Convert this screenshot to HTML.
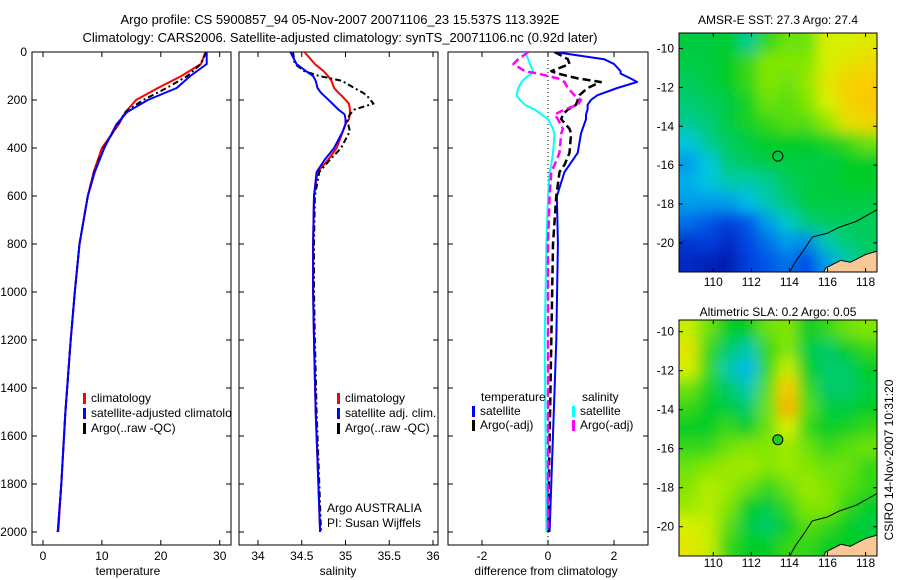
<!DOCTYPE html>
<html><head><meta charset="utf-8"><style>
body{margin:0;background:#fff;}
svg{display:block;font-family:"Liberation Sans",sans-serif;}
</style></head><body>
<svg id="c" width="900" height="580" viewBox="0 0 900 580" xmlns="http://www.w3.org/2000/svg">
<defs>
<filter id="blur" x="-10%" y="-10%" width="120%" height="120%"><feGaussianBlur stdDeviation="7"/></filter>
<clipPath id="m1clip"><rect x="679" y="33" width="198" height="239"/></clipPath>
<clipPath id="m2clip"><rect x="679" y="320" width="198" height="236"/></clipPath>
<clipPath id="p1clip"><rect x="32" y="52" width="199" height="493"/></clipPath>
<clipPath id="p2clip"><rect x="239" y="52" width="199" height="493"/></clipPath>
<clipPath id="p3clip"><rect x="448" y="52" width="200" height="493"/></clipPath>
</defs>
<text x="340" y="24" font-size="13" text-anchor="middle">Argo profile: CS 5900857_94 05-Nov-2007 20071106_23 15.537S 113.392E</text>
<text x="340" y="42" font-size="13" text-anchor="middle">Climatology: CARS2006. Satellite-adjusted climatology: synTS_20071106.nc (0.92d later)</text>
<g id="g"></g>
<text transform="translate(893,460) rotate(-90)" font-size="12" text-anchor="middle">CSIRO 14-Nov-2007 10:31:20</text>
</svg>
<script>
// ---- data ----
const depthT = [0,50,100,150,200,250,300,400,500,600,800,1000,1200,1500,1800,2000];
const tempClim = [27.6,26.8,23.5,19.5,15.8,14.0,12.9,10.0,8.6,7.6,6.2,5.4,4.7,3.8,3.1,2.6];
const tempSat  = [27.8,27.8,25.0,22.7,17.8,14.3,12.5,10.4,8.8,7.6,6.2,5.4,4.7,3.8,3.1,2.5];
const tempArgo = [27.7,26.8,24.5,21.0,17.0,14.0,12.7,10.3,8.7,7.6,6.2,5.4,4.7,3.8,3.1,2.5];
const depthS = [0,50,80,100,120,150,170,180,215,240,260,280,300,330,400,450,500,600,800,1000,1200,1500,1800,2000];
const salClim = [34.53,34.65,34.75,34.80,34.84,34.87,34.92,34.95,35.04,35.05,35.05,35.04,35.0,34.97,34.90,34.80,34.68,34.64,34.63,34.63,34.64,34.66,34.69,34.71];
const salSat  = [34.37,34.44,34.55,34.63,34.66,34.68,34.72,34.75,34.85,34.92,34.99,35.0,35.0,34.97,34.87,34.76,34.67,34.64,34.63,34.63,34.64,34.66,34.69,34.71];
const salArgo = [34.40,34.42,34.53,34.70,34.96,35.10,35.20,35.24,35.32,35.10,35.05,35.02,35.03,35.05,34.95,34.82,34.70,34.65,34.64,34.64,34.65,34.67,34.70,34.72];
const depthD = [0,30,50,80,90,110,125,150,180,200,220,240,260,280,320,340,420,470,500,600,800,1200,2000];
const dTempSat  = [0.2,1.7,2.0,2.2,2.2,2.5,2.7,2.1,1.5,1.3,1.2,1.2,1.15,1.15,1.05,1.0,0.9,0.65,0.5,0.27,0.3,0.25,0.05];
const dTempArgo = [0.2,0.6,0.65,0.1,0.3,0.9,1.6,1.2,0.95,0.9,0.85,0.6,0.45,0.4,0.65,0.7,0.65,0.5,0.35,0.25,0.15,0.1,0.0];
const dSalSat   = [-0.7,-0.6,-0.55,-0.45,-0.5,-0.7,-0.8,-0.9,-0.95,-0.85,-0.7,-0.4,-0.2,0.0,0.15,0.2,0.15,0.1,0.05,0.0,-0.05,-0.1,-0.05];
const dSalArgo  = [-0.6,-0.9,-1.05,-0.7,-0.3,0.3,0.5,0.6,0.8,1.0,0.9,0.5,0.2,0.3,0.45,0.4,0.35,0.2,0.1,0.05,0.0,0.0,0.0];
const tempTicks = [0,10,20,30];
const salTicks = [34,34.5,35,35.5,36];
const diffTicks = [-2,0,2];
const depthTicks = [0,200,400,600,800,1000,1200,1400,1600,1800,2000];
const lonTicks = [110,112,114,116,118];
const latTicks = [-10,-12,-14,-16,-18,-20];
const sstGrid = [
[.48,.48,.50,.42,.55,.60,.60,.72,.72,.74],
[.48,.48,.50,.55,.62,.62,.62,.72,.76,.78],
[.46,.48,.50,.55,.62,.60,.64,.75,.80,.82],
[.44,.46,.48,.52,.60,.58,.62,.72,.80,.83],
[.42,.44,.48,.52,.55,.58,.58,.64,.76,.80],
[.36,.42,.46,.48,.50,.50,.50,.52,.55,.60],
[.30,.36,.44,.46,.48,.48,.48,.48,.50,.50],
[.32,.36,.40,.40,.42,.46,.48,.48,.50,.50],
[.30,.30,.30,.34,.40,.44,.48,.48,.48,.48],
[.25,.22,.18,.22,.30,.38,.44,.46,.46,.46],
[.15,.18,.12,.20,.25,.30,.28,.40,.44,.46],
[.12,.10,.08,.18,.22,.25,.20,.30,.40,.44]];
const slaGrid = [
[.70,.60,.50,.50,.60,.62,.50,.55,.60,.62],
[.75,.55,.45,.40,.55,.62,.48,.45,.50,.55],
[.72,.55,.40,.33,.55,.70,.50,.45,.45,.50],
[.60,.52,.45,.40,.58,.82,.55,.45,.45,.48],
[.55,.50,.48,.45,.60,.86,.58,.48,.48,.50],
[.50,.50,.55,.50,.60,.72,.55,.50,.52,.55],
[.55,.55,.60,.62,.62,.65,.60,.55,.58,.60],
[.60,.62,.65,.66,.62,.65,.62,.60,.60,.55],
[.62,.68,.65,.60,.55,.60,.65,.62,.58,.55],
[.65,.68,.62,.50,.48,.55,.62,.62,.55,.50],
[.72,.70,.58,.48,.45,.50,.58,.55,.50,.48],
[.75,.70,.55,.50,.50,.55,.55,.50,.50,.50]];
const floatLon = 113.392, floatLat = -15.537;

// ---- helpers ----
const NS="http://www.w3.org/2000/svg";
const G=document.getElementById('g');
function mk(tag,attrs,parent){const e=document.createElementNS(NS,tag);for(const k in attrs)e.setAttribute(k,attrs[k]);(parent||G).appendChild(e);return e;}
const yD = d => 52 + d*0.24;
const xT = v => 43 + v*5.89;
const xS = v => 258 + (v-34)*87.5;
const xDf = v => 548 + v*33;

function panel(name,x0,x1,ticks,xf,label,labelX){
  const r=mk('rect',{x:x0,y:52,width:x1-x0,height:493,fill:'none',stroke:'#000','stroke-width':1});
  
  
  ticks.forEach(t=>{const x=xf(t);
    mk('line',{x1:x,x2:x,y1:545,y2:540,stroke:'#000'});mk('line',{x1:x,x2:x,y1:52,y2:57,stroke:'#000'});
    const tx=mk('text',{x:x,y:560,'font-size':12,'text-anchor':'middle'});tx.textContent=t;
    
    });
  depthTicks.forEach(d=>{const y=yD(d);
    mk('line',{x1:x0,x2:x0+5,y1:y,y2:y,stroke:'#000'});mk('line',{x1:x1,x2:x1-5,y1:y,y2:y,stroke:'#000'});});
  const l=mk('text',{x:labelX,y:575,'font-size':12,'text-anchor':'middle'});l.textContent=label;
  
  
}
panel('temperature-panel',32,231,tempTicks,xT,'temperature',128);
panel('salinity-panel',239,438,salTicks,xS,'salinity',338);
panel('difference-panel',448,648,diffTicks,xDf,'difference from climatology',546);
depthTicks.forEach(d=>{const t=mk('text',{x:27,y:yD(d)+4,'font-size':12,'text-anchor':'end'});t.textContent=d;
  
  });
mk('line',{x1:548,x2:548,y1:52,y2:545,stroke:'#000','stroke-dasharray':'1,3','stroke-width':1});

function line(name,depths,vals,xf,color,dash,clip,w){
  const pts=depths.map((d,i)=>xf(vals[i]).toFixed(1)+','+yD(d).toFixed(1)).join(' ');
  const p=mk('polyline',{points:pts,fill:'none',stroke:color,'stroke-width':w||2,'stroke-dasharray':dash||'none','clip-path':'url(#'+clip+')','stroke-linejoin':'round'});
  
  
}
line('temp-climatology-line',depthT,tempClim,xT,'#f00',null,'p1clip');
line('temp-argo-line',depthT,tempArgo,xT,'#000','6,3,2,3','p1clip');
line('temp-satellite-line',depthT,tempSat,xT,'#00f',null,'p1clip');
line('sal-climatology-line',depthS,salClim,xS,'#f00',null,'p2clip');
line('sal-argo-line',depthS,salArgo,xS,'#000','6,3,2,3','p2clip');
line('sal-satellite-line',depthS,salSat,xS,'#00f',null,'p2clip');
line('diff-temp-satellite-line',depthD,dTempSat,xDf,'#00f',null,'p3clip');
line('diff-temp-argo-line',depthD,dTempArgo,xDf,'#000','8,4','p3clip',2.5);
line('diff-sal-satellite-line',depthD,dSalSat,xDf,'#0ff',null,'p3clip');
line('diff-sal-argo-line',depthD,dSalArgo,xDf,'#f0f','8,4','p3clip',2.5);

function legend(name,x,y,color,text,clip){
  const b=mk('rect',{x:x,y:y-9,width:3,height:11,fill:color});
  
  
  const t=mk('text',{x:x+8,y:y,'font-size':12});t.textContent=text;
  if(clip)t.setAttribute('clip-path','url(#'+clip+')');
  
  
}
legend('legend-climatology',83,402,'#f00','climatology','p1clip');
legend('legend-satellite-adjusted',83,417,'#00f','satellite-adjusted climatology','p1clip');
legend('legend-argo-raw',83,432,'#000','Argo(..raw -QC)','p1clip');
legend('legend-sal-climatology',337,402,'#f00','climatology');
legend('legend-sal-satellite',337,417,'#00f','satellite adj. clim.');
legend('legend-sal-argo',337,432,'#000','Argo(..raw -QC)');
legend('legend-diff-temp-satellite',472,415,'#00f','satellite');
legend('legend-diff-temp-argo',472,429,'#000','Argo(-adj)');
legend('legend-diff-sal-satellite',572,415,'#0ff','satellite');
legend('legend-diff-sal-argo',572,429,'#f0f','Argo(-adj)');
[['temperature',481,401],['salinity',582,401]].forEach(a=>{const t=mk('text',{x:a[1],y:a[2],'font-size':12});t.textContent=a[0];
  
  });
[['Argo AUSTRALIA',512],['PI: Susan Wijffels',527]].forEach(a=>{const t=mk('text',{x:327,y:a[1],'font-size':12});t.textContent=a[0];
  
  });

// ---- maps ----
const stops=[[0,[0,0,140]],[.2,[0,70,230]],[.35,[0,200,235]],[.5,[0,205,40]],[.62,[130,230,0]],[.72,[215,240,0]],[.82,[250,205,0]],[.92,[250,140,0]],[1,[220,60,0]]];
function cmap(v){for(let i=1;i<stops.length;i++){if(v<=stops[i][0]){const a=stops[i-1],b=stops[i],f=(v-a[0])/(b[0]-a[0]);
  return 'rgb('+a[1].map((c,k)=>Math.round(c+(b[1][k]-c)*f)).join(',')+')';}}return 'rgb(220,60,0)';}
function map(name,grid,top,bot,latTop,latBot,title,titleY,labelY,clipId){
  const x0=679,x1=877,lon0=108.2,lon1=118.6;
  const lx=l=>x0+(l-lon0)/(lon1-lon0)*(x1-x0);
  const ly=l=>top+(latTop-l)/(latTop-latBot)*(bot-top);
  const tt=mk('text',{x:778,y:titleY,'font-size':12,'text-anchor':'middle'});tt.textContent=title;
  
  
  const outer=mk('g',{'clip-path':'url(#'+clipId+')'});
  
  
  const g=mk('g',{filter:'url(#blur)'},outer);
  const R=grid.length,C=grid[0].length,cw=(x1-x0)/C,ch=(bot-top)/R;
  for(let r=-1;r<=R;r++)for(let c=-1;c<=C;c++){
    const v=grid[Math.min(R-1,Math.max(0,r))][Math.min(C-1,Math.max(0,c))];
    const cell=mk('rect',{x:x0+c*cw-0.5,y:top+r*ch-0.5,width:cw+1,height:ch+1,fill:cmap(v)},g);
    
    
  }
  const land=[[115.7,-21.7],[115.9,-21.3],[116.3,-21.1],[116.7,-20.9],[117.2,-21.0],[117.6,-20.8],[118.0,-20.6],[118.7,-20.4],[118.7,-21.7]];
  const lp=mk('polygon',{points:land.map(p=>lx(p[0])+','+ly(p[1])).join(' '),fill:'#f8c898',stroke:'#000','stroke-width':1},outer);
  
  
  const shelf=[[113.9,-21.7],[114.3,-21.0],[114.8,-20.3],[115.2,-19.7],[116.0,-19.5],[116.6,-19.2],[117.5,-18.9],[118.6,-18.3]];
  mk('polyline',{points:shelf.map(p=>lx(p[0])+','+ly(p[1])).join(' '),fill:'none',stroke:'#000','stroke-width':1},outer);
  const fr=mk('rect',{x:x0,y:top,width:x1-x0,height:bot-top,fill:'none',stroke:'#000'});
  
  
  const mkr=mk('circle',{cx:lx(floatLon),cy:ly(floatLat),r:5,fill:name==='sla-map'?'#22cc22':'none',stroke:'#000','stroke-width':1});
  
  
  lonTicks.forEach(l=>{const x=lx(l);mk('line',{x1:x,x2:x,y1:bot,y2:bot-4,stroke:'#000'});mk('line',{x1:x,x2:x,y1:top,y2:top+4,stroke:'#000'});
    const t=mk('text',{x:x,y:labelY,'font-size':12,'text-anchor':'middle'});t.textContent=l;
    
    });
  latTicks.forEach(l=>{const y=ly(l);mk('line',{x1:x0,x2:x0+4,y1:y,y2:y,stroke:'#000'});mk('line',{x1:x1,x2:x1-4,y1:y,y2:y,stroke:'#000'});
    const t=mk('text',{x:x0-5,y:y+4,'font-size':12,'text-anchor':'end'});t.textContent=l;
    
    });
}
map('sst-map',sstGrid,33,272,-9.2,-21.5,'AMSR-E SST: 27.3 Argo: 27.4',24,286,'m1clip');
map('sla-map',slaGrid,320,556,-9.4,-21.5,'Altimetric SLA: 0.2 Argo: 0.05',316,567,'m2clip');
</script>
</body></html>
